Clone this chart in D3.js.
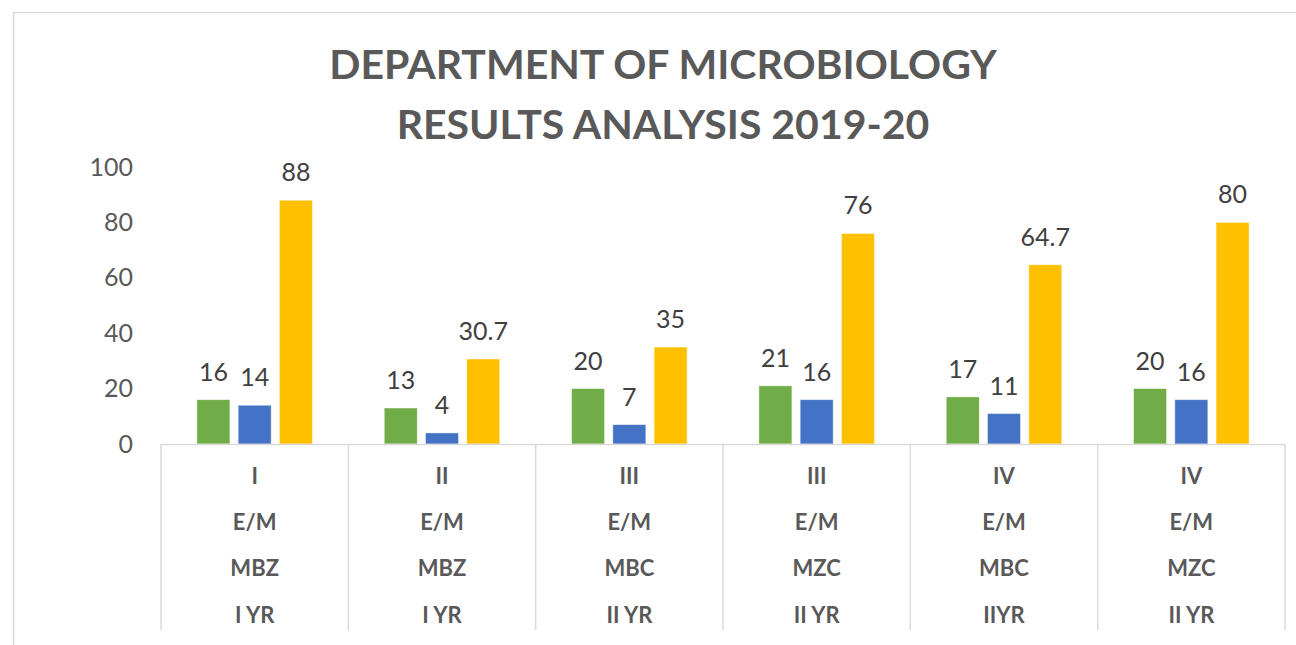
<!DOCTYPE html>
<html>
<head>
<meta charset="utf-8">
<script src="https://cdn.jsdelivr.net/npm/d3@7"></script>
<style>
    body { margin: 0; background: #fff; }
    svg { display: block; }
</style>
</head>
<body>
<div id="chart"></div>
<script>
// values
var papers = ["I", "II", "III", "III", "IV", "IV"];
var exams = ["E/M", "E/M", "E/M", "E/M", "E/M", "E/M"];
var groups = ["MBZ", "MBZ", "MBC", "MZC", "MBC", "MZC"];
var years = ["I YR", "I YR", "II YR", "II YR", "IIYR", "II YR"];
var greenValues = [16, 13, 20, 21, 17, 20];
var blueValues = [14, 4, 7, 16, 11, 16];
var goldValues = [88, 30.7, 35, 76, 64.7, 80];
var yTicks = [0, 20, 40, 60, 80, 100];
var titleLines = ["DEPARTMENT OF MICROBIOLOGY", "RESULTS ANALYSIS 2019-20"];

var seriesNames = ["green", "blue", "gold"];
var seriesColors = { green: "#70AD47", blue: "#4472C4", gold: "#FFC000" };

var chartDimension = { width: 1296, height: 645 };
var plot = { left: 161, right: 1285, top: 167, bottom: 444 };
var labelRows = [476, 522, 568, 615];
var labelFont = "Lato, 'Open Sans', sans-serif";

var categories = papers.map(function (d, i) { return "c" + i; });
var table = categories.map(function (c, i) {
    return {
        key: c,
        values: [
            { series: "green", value: greenValues[i] },
            { series: "blue", value: blueValues[i] },
            { series: "gold", value: goldValues[i] }
        ]
    };
});

var svg = d3.select("#chart").append("svg")
    .attr("width", chartDimension.width)
    .attr("height", chartDimension.height);

// chart area border (runs past the right and bottom edges)
svg.append("rect")
    .attr("x", 13.5)
    .attr("y", 12.5)
    .attr("width", 1320)
    .attr("height", 700)
    .attr("fill", "#fff")
    .attr("stroke", "#d9d9d9")
    .attr("stroke-width", 1.5);

var x0 = d3.scaleBand()
    .domain(categories)
    .range([plot.left, plot.right])
    .padding(0);

var x1 = d3.scaleBand()
    .domain(seriesNames)
    .range([0, x0.bandwidth()])
    .paddingInner(0.2)
    .paddingOuter(0.87);

var y = d3.scaleLinear()
    .domain([0, 100])
    .range([plot.bottom, plot.top]);

// title
svg.append("g").selectAll("text")
    .data(titleLines)
    .enter().append("text")
    .attr("x", 663)
    .attr("y", function (d, i) { return 79 + i * 60; })
    .attr("text-anchor", "middle")
    .style("font-family", labelFont)
    .style("font-weight", "bold")
    .style("font-size", "41px")
    .style("fill", "#595959")
    .text(function (d) { return d; });

// y axis labels only, no line or gridlines
var yAxis = svg.append("g")
    .attr("transform", "translate(133,0)")
    .call(d3.axisLeft(y).tickValues(yTicks).tickSize(0).tickPadding(0));
yAxis.select(".domain").remove();
yAxis.selectAll("text")
    .style("font-family", labelFont)
    .style("font-size", "25px")
    .style("fill", "#595959");

// bars
var bar = svg.append("g").selectAll("g")
    .data(table)
    .enter().append("g")
    .attr("transform", function (d) {
        return "translate(" + x0(d.key) + ",0)";
    });

bar.selectAll("rect")
    .data(function (d) { return d.values; })
    .enter().append("rect")
    .attr("x", function (d) { return x1(d.series); })
    .attr("y", function (d) { return y(d.value); })
    .attr("width", x1.bandwidth())
    .attr("height", function (d) { return y(0) - y(d.value); })
    .attr("fill", function (d) { return seriesColors[d.series]; })
    .attr("stroke", "#fff")
    .attr("stroke-opacity", 0.6)
    .attr("stroke-width", 0.75);

bar.selectAll("text")
    .data(function (d) { return d.values; })
    .enter().append("text")
    .attr("x", function (d) { return x1(d.series) + x1.bandwidth() / 2; })
    .attr("y", function (d) { return y(d.value) - 19; })
    .attr("text-anchor", "middle")
    .style("font-family", labelFont)
    .style("font-size", "25px")
    .style("fill", "#404040")
    .text(function (d) { return d.value; });

// category axis: baseline and separators
var axisLines = svg.append("g")
    .attr("stroke", "#d9d9d9")
    .attr("stroke-width", 1.5);

axisLines.append("line")
    .attr("x1", plot.left)
    .attr("x2", plot.right)
    .attr("y1", plot.bottom + 0.5)
    .attr("y2", plot.bottom + 0.5);

axisLines.selectAll("line.sep")
    .data(categories.concat(["end"]))
    .enter().append("line")
    .attr("class", "sep")
    .attr("x1", function (d) { return d === "end" ? plot.right : x0(d); })
    .attr("x2", function (d) { return d === "end" ? plot.right : x0(d); })
    .attr("y1", plot.bottom)
    .attr("y2", 630);

// multi-level category labels
var levels = [papers, exams, groups, years];
levels.forEach(function (level, li) {
    svg.append("g").selectAll("text")
        .data(level)
        .enter().append("text")
        .attr("x", function (d, i) { return x0(categories[i]) + x0.bandwidth() / 2; })
        .attr("y", labelRows[li])
        .attr("dy", "0.35em")
        .attr("text-anchor", "middle")
        .style("font-family", labelFont)
        .style("font-weight", "bold")
        .style("font-size", "22px")
        .style("white-space", "pre")
        .style("fill", "#595959")
        .text(function (d) { return d; });
});
</script>
</body>
</html>
